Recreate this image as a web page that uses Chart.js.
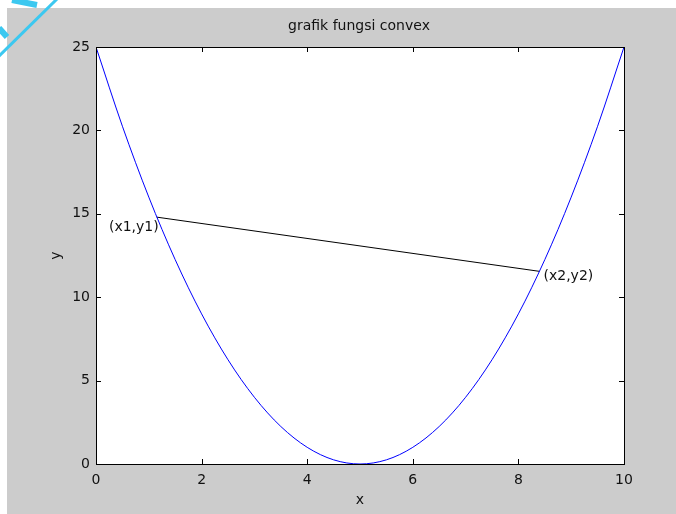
<!DOCTYPE html>
<html>
<head>
<meta charset="utf-8">
<script src="https://cdn.jsdelivr.net/npm/chart.js@4.4.1/dist/chart.umd.min.js"></script>
<style>
  html, body { margin: 0; padding: 0; background: #ffffff; }
  #wrap { width: 676px; height: 514px; }
</style>
</head>
<body>
<div id="wrap"><canvas id="convex" width="676" height="514"></canvas></div>
<script>
// DATA
const curveX = [0, 0.5, 1, 1.5, 2, 2.5, 3, 3.5, 4, 4.5, 5, 5.5, 6, 6.5, 7, 7.5, 8, 8.5, 9, 9.5, 10];
const curveY = [25, 20.25, 16, 12.25, 9, 6.25, 4, 2.25, 1, 0.25, 0, 0.25, 1, 2.25, 4, 6.25, 9, 12.25, 16, 20.25, 25];
const chordX = [1.15, 8.4];
const chordY = [14.8, 11.55];
const chordLabels = ['(x1,y1)', '(x2,y2)'];
const xTicks = [0, 2, 4, 6, 8, 10];
const yTicks = [0, 5, 10, 15, 20, 25];
const titleText = 'grafik fungsi convex';

const FONT = 'DejaVu Sans';

// build point lists for the library
const curvePts = curveX.map((x, i) => ({ x: x, y: curveY[i] }));
const chordPts = chordX.map((x, i) => ({ x: x, y: chordY[i] }));

// GRAY FIGURE BACKGROUND + WHITE AXES BOX
const bgPlugin = {
    id: 'bg',
    beforeDraw(chart) {
        const ctx = chart.ctx;
        const a = chart.chartArea;
        ctx.save();
        ctx.fillStyle = '#cccccc';
        ctx.fillRect(7, 8, chart.width - 7, chart.height - 8);
        ctx.fillStyle = '#ffffff';
        ctx.fillRect(a.left, a.top, a.right - a.left, a.bottom - a.top);
        // little blue scribble in the corner
        ctx.strokeStyle = '#3cc8f0';
        ctx.lineWidth = 3;
        ctx.beginPath();
        ctx.moveTo(-2, 57); ctx.lineTo(58, -2);
        ctx.stroke();
        ctx.lineWidth = 6;
        ctx.beginPath();
        ctx.moveTo(12, 0); ctx.lineTo(37, 5);
        ctx.moveTo(-1, 28); ctx.lineTo(7, 37);
        ctx.stroke();
        ctx.restore();
    }
};

// TITLE, INWARD TICKS ON ALL FOUR SIDES, BOX, POINT LABELS
const boxPlugin = {
    id: 'box',
    afterDraw(chart) {
        const ctx = chart.ctx;
        const a = chart.chartArea;
        const xs = chart.scales.x, ys = chart.scales.y;
        ctx.save();
        ctx.strokeStyle = '#000000';
        ctx.lineWidth = 1;
        ctx.beginPath();
        xTicks.forEach(v => {
            const px = Math.round(xs.getPixelForValue(v)) + 0.5;
            ctx.moveTo(px, a.bottom); ctx.lineTo(px, a.bottom - 5);
            ctx.moveTo(px, a.top); ctx.lineTo(px, a.top + 5);
        });
        yTicks.forEach(v => {
            const py = Math.round(ys.getPixelForValue(v)) + 0.5;
            ctx.moveTo(a.left, py); ctx.lineTo(a.left + 5, py);
            ctx.moveTo(a.right, py); ctx.lineTo(a.right - 5, py);
        });
        ctx.stroke();
        ctx.strokeRect(Math.round(a.left) + 0.5, Math.round(a.top) + 0.5,
                       Math.round(a.right - a.left), Math.round(a.bottom - a.top));

        ctx.fillStyle = '#111111';
        ctx.font = '14px "' + FONT + '"';
        ctx.textBaseline = 'middle';
        ctx.textAlign = 'center';
        ctx.fillText(titleText, (a.left + a.right) / 2 - 1, 26);
        ctx.textAlign = 'right';
        ctx.fillText(chordLabels[0], xs.getPixelForValue(chordX[0]) + 2, ys.getPixelForValue(chordY[0]) + 10);
        ctx.textAlign = 'left';
        ctx.fillText(chordLabels[1], xs.getPixelForValue(chordX[1]) + 4, ys.getPixelForValue(chordY[1]) + 5);
        ctx.restore();
    }
};

const ctx = document.getElementById('convex').getContext('2d');
const chart = new Chart(ctx, {
    type: 'scatter',
    data: {
        datasets: [{
            data: curvePts,
            showLine: true,
            borderColor: '#0000ff',
            borderWidth: 1,
            pointRadius: 0,
            cubicInterpolationMode: 'monotone'
        }, {
            data: chordPts,
            showLine: true,
            borderColor: '#000000',
            borderWidth: 1,
            pointRadius: 0
        }]
    },
    options: {
        responsive: false,
        animation: false,
        layout: { padding: { left: 7, top: 47, right: 52, bottom: 0 } },
        plugins: {
            legend: { display: false },
            tooltip: { enabled: false },
            title: { display: false }
        },
        scales: {
            x: {
                type: 'linear',
                min: 0, max: 10,
                afterFit(scale) { scale.height = 50; },
                afterBuildTicks(scale) { scale.ticks = xTicks.map(v => ({ value: v })); },
                grid: { display: false, drawTicks: false },
                border: { display: false },
                ticks: { color: '#111111', padding: 8, font: { family: FONT, size: 14 } },
                title: { display: true, text: 'x', color: '#111111',
                         font: { family: FONT, size: 14 }, padding: { top: 0, bottom: 5 } }
            },
            y: {
                type: 'linear',
                min: 0, max: 25,
                afterFit(scale) { scale.width = 89; },
                afterBuildTicks(scale) { scale.ticks = yTicks.map(v => ({ value: v })); },
                grid: { display: false, drawTicks: false },
                border: { display: false },
                ticks: { color: '#111111', padding: 6, font: { family: FONT, size: 14 } },
                title: { display: true, text: 'y', color: '#111111',
                         font: { family: FONT, size: 14 }, padding: { top: 41, bottom: 0 } }
            }
        }
    },
    plugins: [bgPlugin, boxPlugin]
});
</script>
</body>
</html>
